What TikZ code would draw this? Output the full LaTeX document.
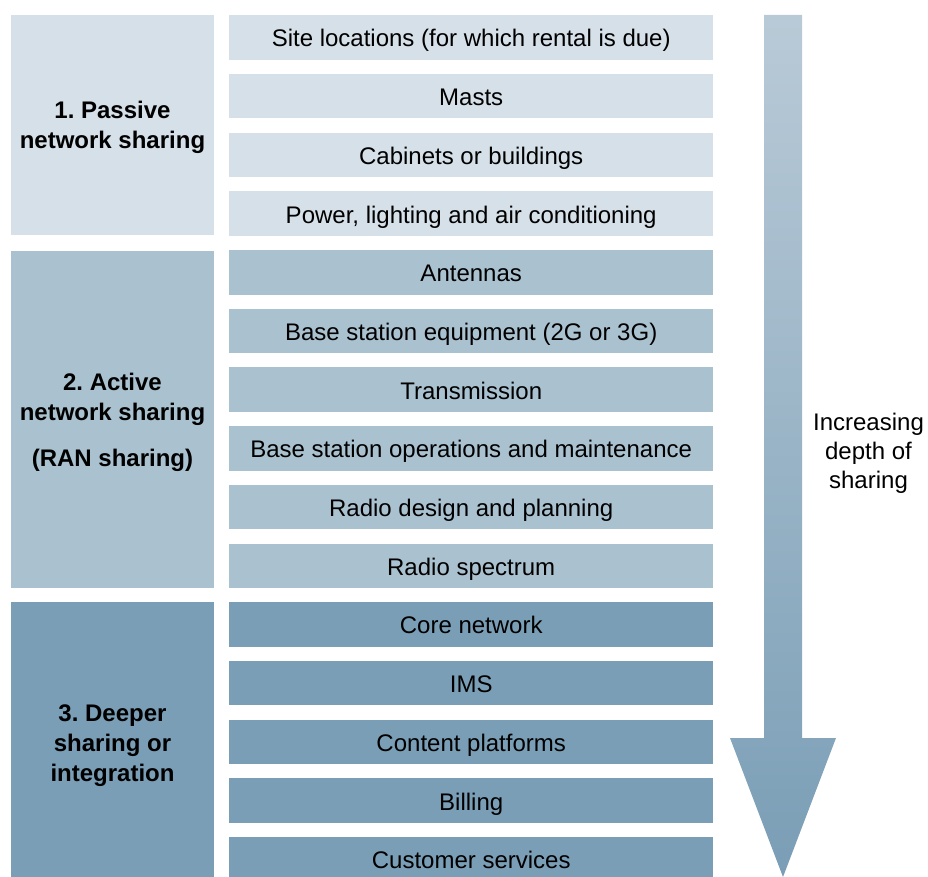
\documentclass[tikz,border=0pt]{standalone}
\usepackage{fontspec}
\setmainfont{Liberation Sans}
\frenchspacing
\definecolor{lightc}{RGB}{214,224,232}
\definecolor{midc}{RGB}{170,194,208}
\definecolor{darkc}{RGB}{122,158,182}
\definecolor{arrtop}{RGB}{185,202,215}
\definecolor{arrbot}{RGB}{122,158,182}
\begin{document}
\begin{tikzpicture}[x=1pt,y=-1pt,
  itembox/.style={rectangle, anchor=north west, minimum width=484pt, minimum height=44.5pt, inner sep=0pt, text height=19pt, text depth=0pt, font=\fontsize{24}{29.5}\selectfont},
  groupbox/.style={rectangle, anchor=north west, minimum width=203pt, inner sep=0pt},
  grouplabel/.style={align=center, font=\fontsize{24}{30}\selectfont\bfseries},
  arrowlabel/.style={align=center, font=\fontsize{24}{29}\selectfont}]
\useasboundingbox (0,0) rectangle (928,877);
% group boxes
\node[groupbox, fill=lightc, minimum height=220pt] (g1) at (11,15) {};
\node[groupbox, fill=midc, minimum height=337pt] (g2) at (11,251) {};
\node[groupbox, fill=darkc, minimum height=280pt] (g3) at (11,602) {};
\node[grouplabel] (l1) at (112.5,127.5) {1. Passive\\network sharing};
\node[grouplabel] (l2) at (112.5,422.5) {2. Active\\network sharing\\[16pt](RAN sharing)};
\node[grouplabel] (l3) at (112.5,745.5) {3. Deeper\\sharing or\\integration};
% items
\def\rowy#1{15+#1*58.7}
\node[itembox, fill=lightc] (r0) at (229,{\rowy{0}}) {Site locations (for which rental is due)};
\node[itembox, fill=lightc] (r1) at (229,{\rowy{1}}) {Masts};
\node[itembox, fill=lightc] (r2) at (229,{\rowy{2}}) {Cabinets or buildings};
\node[itembox, fill=lightc] (r3) at (229,{\rowy{3}}) {Power, lighting and air conditioning};
\node[itembox, fill=midc] (r4) at (229,{\rowy{4}}) {Antennas};
\node[itembox, fill=midc] (r5) at (229,{\rowy{5}}) {Base station equipment (2G or 3G)};
\node[itembox, fill=midc] (r6) at (229,{\rowy{6}}) {Transmission};
\node[itembox, fill=midc] (r7) at (229,{\rowy{7}}) {Base station operations and maintenance};
\node[itembox, fill=midc] (r8) at (229,{\rowy{8}}) {Radio design and planning};
\node[itembox, fill=midc] (r9) at (229,{\rowy{9}}) {Radio spectrum};
\node[itembox, fill=darkc] (r10) at (229,{\rowy{10}}) {Core network};
\node[itembox, fill=darkc] (r11) at (229,{\rowy{11}}) {IMS};
\node[itembox, fill=darkc] (r12) at (229,{\rowy{12}}) {Content platforms};
\node[itembox, fill=darkc] (r13) at (229,{\rowy{13}}) {Billing};
\node[itembox, fill=darkc] (r14) at (229,{\rowy{14}}) {Customer services};
% arrow
\shade[top color=arrtop, bottom color=arrbot]
  (764,15) -- (802,15) -- (802,738) -- (836,738) -- (783,877) -- (730,738) -- (764,738) -- cycle;
\node[arrowlabel] (al) at (868.5,453.5) {Increasing\\depth of\\sharing};
\end{tikzpicture}
\end{document}
